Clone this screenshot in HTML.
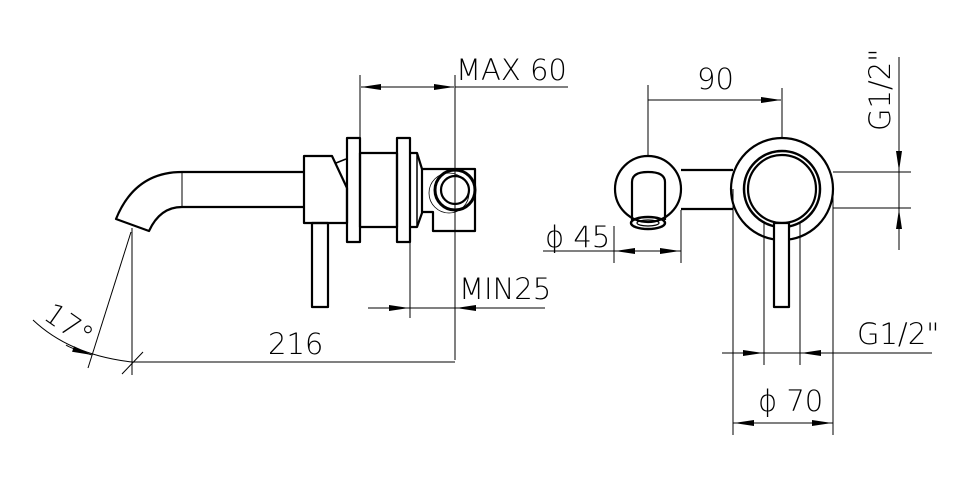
<!DOCTYPE html>
<html><head><style>html,body{margin:0;padding:0;background:#fff}</style></head><body>
<svg width="970" height="489" viewBox="0 0 970 489" xmlns="http://www.w3.org/2000/svg" style="display:block">
<defs>
<marker id="a" viewBox="0 0 20 6" refX="20" refY="3" markerWidth="20" markerHeight="6" markerUnits="userSpaceOnUse" orient="auto"><path d="M0,0 L20,3 L0,6 z" fill="#000"/></marker>
</defs>
<g fill="none" stroke="#000" stroke-width="2.2" stroke-linejoin="round">
<path d="M304,172 L182,172 Q135,172 116,219 L149,231 Q160,207 182,207 L304,207"/>
<line x1="182" y1="172" x2="182" y2="207" stroke-width="1"/>
<path d="M304,156 L332,156 L347,188 L347,223 L304,223 Z"/>
<path d="M336,163 L346,159" stroke-width="1.5"/>
<rect x="312" y="223" width="16" height="84"/>
<rect x="347" y="138" width="13" height="104"/>
<rect x="360" y="153" width="37" height="74"/>
<rect x="397" y="138" width="13" height="104"/>
<path d="M410,153 L417,153 L422,169 L422,213 L417,227 L410,227"/>
<line x1="417" y1="153" x2="417" y2="227" stroke-width="1.5"/>
<path d="M422,169 L475,169 L475,231 L433,231 L433,212 L422,212"/>
<circle cx="455" cy="190" r="20" stroke-width="3"/>
<circle cx="455" cy="190" r="14"/>
<circle cx="449" cy="193" r="20" stroke-width="0.8"/>
<circle cx="648" cy="189" r="33"/>
<path d="M632,220 L632,182 Q632,172 648,172 Q665,172 665,182 L665,220"/>
<ellipse cx="648" cy="223" rx="17" ry="6" stroke-width="2.5"/>
<ellipse cx="648" cy="223" rx="11" ry="3" stroke-width="1.2"/>
<line x1="681" y1="170" x2="733" y2="170"/>
<line x1="681" y1="209" x2="733" y2="209"/>
<circle cx="782" cy="189" r="51"/>
<circle cx="782" cy="189" r="38" stroke-width="2.5"/>
<circle cx="782" cy="189" r="34"/>
<rect x="774" y="223" width="15" height="84" fill="#fff"/>
</g>
<g fill="none" stroke="#000" stroke-width="1">
<line x1="360" y1="75" x2="360" y2="138"/>
<line x1="455" y1="75" x2="455" y2="360"/>
<line x1="410" y1="242" x2="410" y2="318"/>
<line x1="408" y1="87" x2="361" y2="87" marker-end="url(#a)"/>
<line x1="408" y1="87" x2="454" y2="87" marker-end="url(#a)"/>
<line x1="455" y1="87" x2="568" y2="87"/>
<line x1="368" y1="308" x2="409" y2="308" marker-end="url(#a)"/>
<line x1="545" y1="308" x2="456" y2="308" marker-end="url(#a)"/>
<line x1="409" y1="308" x2="456" y2="308"/>
<line x1="132" y1="228" x2="132" y2="375"/>
<line x1="132" y1="362" x2="455" y2="362"/>
<line x1="122" y1="374" x2="143" y2="352"/>
<line x1="131" y1="232" x2="88" y2="368"/>
<path d="M33,320 Q70,355 132,362"/>
<path d="M66,345 Q70,348 92,355" marker-end="url(#a)"/>
<line x1="648" y1="85" x2="648" y2="156"/>
<line x1="782" y1="88" x2="782" y2="138"/>
<line x1="648" y1="100" x2="781" y2="100" marker-end="url(#a)"/>
<line x1="899" y1="57" x2="899" y2="250"/>
<line x1="833" y1="172" x2="911" y2="172"/>
<line x1="833" y1="208" x2="911" y2="208"/>
<line x1="899" y1="148" x2="899" y2="171" marker-end="url(#a)"/>
<line x1="899" y1="232" x2="899" y2="209" marker-end="url(#a)"/>
<line x1="614" y1="226" x2="614" y2="263"/>
<line x1="681" y1="210" x2="681" y2="263"/>
<line x1="543" y1="251" x2="681" y2="251"/>
<line x1="640" y1="251" x2="615" y2="251" marker-end="url(#a)"/>
<line x1="655" y1="251" x2="680" y2="251" marker-end="url(#a)"/>
<line x1="733" y1="189" x2="733" y2="435"/>
<line x1="833" y1="189" x2="833" y2="435"/>
<line x1="764" y1="222" x2="764" y2="365"/>
<line x1="800" y1="222" x2="800" y2="365"/>
<line x1="722" y1="353" x2="932" y2="353"/>
<line x1="743" y1="353" x2="763" y2="353" marker-end="url(#a)"/>
<line x1="821" y1="353" x2="801" y2="353" marker-end="url(#a)"/>
<line x1="733" y1="423" x2="833" y2="423"/>
<line x1="760" y1="423" x2="734" y2="423" marker-end="url(#a)"/>
<line x1="806" y1="423" x2="832" y2="423" marker-end="url(#a)"/>
</g>
<g font-family="DejaVu Sans, Liberation Sans, sans-serif" font-size="29" fill="#000" font-weight="200">
<text x="456" y="80">MAX 60</text>
<text x="459" y="299">MIN25</text>
<text x="268" y="354">216</text>
<text x="697" y="89">90</text>
<text x="545" y="247">ϕ 45</text>
<text x="758" y="411">ϕ 70</text>
<text x="857" y="344">G1/2"</text>
<text transform="translate(890,131) rotate(-90)">G1/2"</text>
<text transform="translate(42,318) rotate(35)">17°</text>
</g>
</svg>
</body></html>
